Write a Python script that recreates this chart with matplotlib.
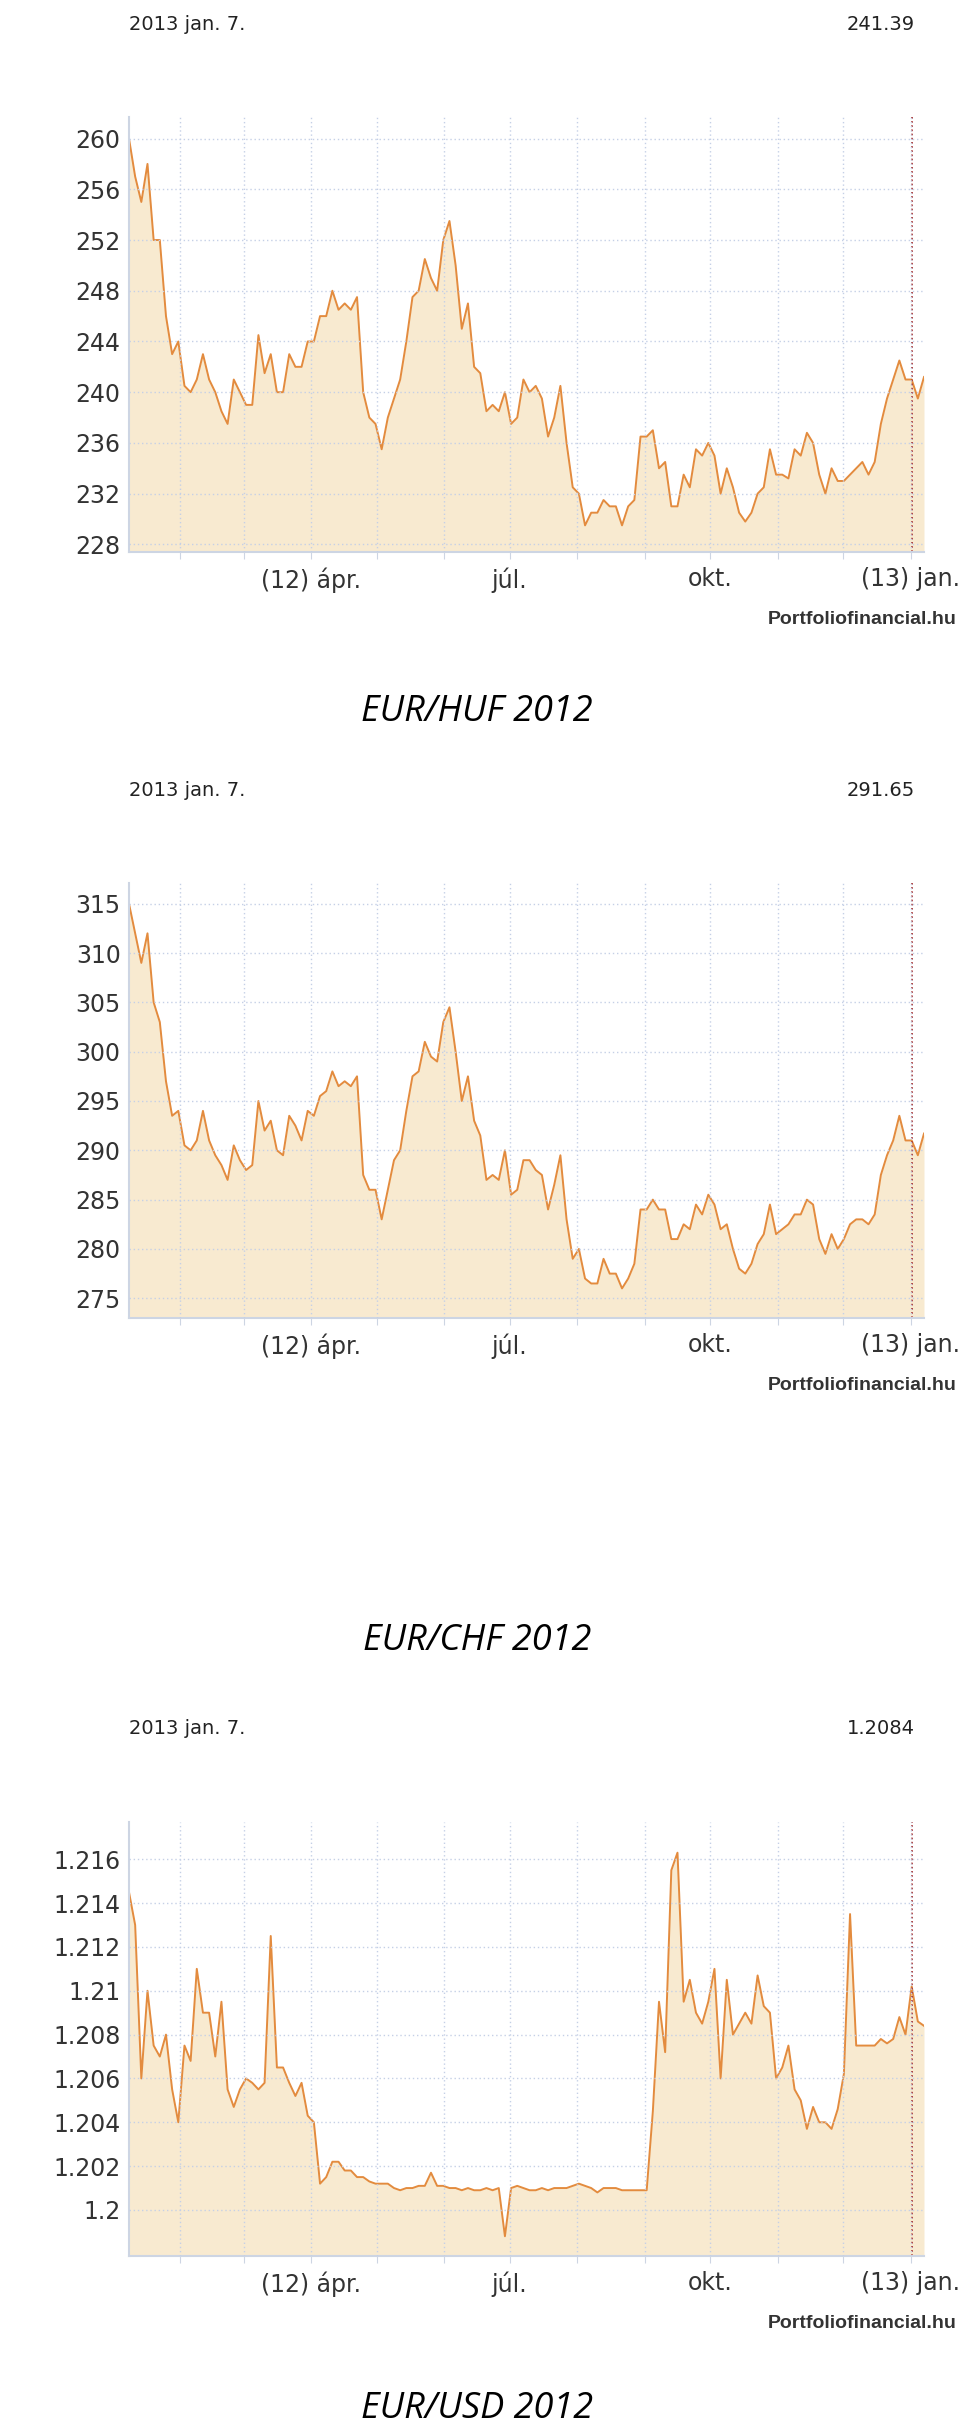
import matplotlib.pyplot as plt
import numpy as np

# day numbers in 2012 (Jan 1 = 0)
month_days = [31, 60, 91, 121, 152, 182, 213, 244, 274, 305, 335, 366]
label_days = [91, 182, 274, 366]
label_text = ["(12) ápr.", "júl.", "okt.", "(13) jan."]

huf = [260, 257, 255, 258, 252, 252, 246, 243, 244, 240.5, 240, 241, 243, 241, 240, 238.5, 237.5, 241, 240, 239,
       239, 244.5, 241.5, 243, 240, 240, 243, 242, 242, 244, 244, 246, 246, 248, 246.5, 247, 246.5, 247.5, 240, 238,
       237.5, 235.5, 238, 239.5, 241, 244, 247.5, 248, 250.5, 249, 248, 252, 253.5, 250, 245, 247, 242, 241.5, 238.5, 239,
       238.5, 240, 237.5, 238, 241, 240, 240.5, 239.5, 236.5, 238, 240.5, 236, 232.5, 232, 229.5, 230.5, 230.5, 231.5, 231, 231,
       229.5, 231, 231.5, 236.5, 236.5, 237, 234, 234.5, 231, 231, 233.5, 232.5, 235.5, 235, 236, 235, 232, 234, 232.5, 230.5,
       229.8, 230.5, 232, 232.5, 235.5, 233.5, 233.5, 233.2, 235.5, 235, 236.8, 236, 233.5, 232, 234, 233, 233, 233.5, 234, 234.5,
       233.5, 234.5, 237.5, 239.5, 241, 242.5, 241, 241, 239.5, 241.2]

chf = [315, 312, 309, 312, 305, 303, 297, 293.5, 294, 290.5, 290, 291, 294, 291, 289.5, 288.5, 287, 290.5, 289, 288,
       288.5, 295, 292, 293, 290, 289.5, 293.5, 292.5, 291, 294, 293.5, 295.5, 296, 298, 296.5, 297, 296.5, 297.5, 287.5, 286,
       286, 283, 286, 289, 290, 294, 297.5, 298, 301, 299.5, 299, 303, 304.5, 300, 295, 297.5, 293, 291.5, 287, 287.5,
       287, 290, 285.5, 286, 289, 289, 288, 287.5, 284, 286.5, 289.5, 283, 279, 280, 277, 276.5, 276.5, 279, 277.5, 277.5,
       276, 277, 278.5, 284, 284, 285, 284, 284, 281, 281, 282.5, 282, 284.5, 283.5, 285.5, 284.5, 282, 282.5, 280, 278,
       277.5, 278.5, 280.5, 281.5, 284.5, 281.5, 282, 282.5, 283.5, 283.5, 285, 284.5, 281, 279.5, 281.5, 280, 281, 282.5, 283, 283,
       282.5, 283.5, 287.5, 289.5, 291, 293.5, 291, 291, 289.5, 291.7]

usd = [1.2145, 1.213, 1.206, 1.210, 1.2075, 1.207, 1.208, 1.2055, 1.204, 1.2075, 1.2068, 1.211, 1.209, 1.209, 1.207, 1.2095,
       1.2055, 1.2047, 1.2055, 1.206, 1.2058, 1.2055, 1.2058, 1.2125, 1.2065, 1.2065, 1.2058, 1.2052, 1.2058, 1.2043, 1.204, 1.2012,
       1.2015, 1.2022, 1.2022, 1.2018, 1.2018, 1.2015, 1.2015, 1.2013, 1.2012, 1.2012, 1.2012, 1.201, 1.2009, 1.201, 1.201, 1.2011,
       1.2011, 1.2017, 1.2011, 1.2011, 1.201, 1.201, 1.2009, 1.201, 1.2009, 1.2009, 1.201, 1.2009, 1.201, 1.1988, 1.201, 1.2011,
       1.201, 1.2009, 1.2009, 1.201, 1.2009, 1.201, 1.201, 1.201, 1.2011, 1.2012, 1.2011, 1.201, 1.2008, 1.201, 1.201, 1.201,
       1.2009, 1.2009, 1.2009, 1.2009, 1.2009, 1.2045, 1.2095, 1.2072, 1.2155, 1.2163, 1.2095, 1.2105, 1.209, 1.2085, 1.2095, 1.211,
       1.206, 1.2105, 1.208, 1.2085, 1.209, 1.2085, 1.2107, 1.2093, 1.209, 1.206, 1.2065, 1.2075, 1.2055, 1.205, 1.2037, 1.2047,
       1.204, 1.204, 1.2037, 1.2046, 1.2062, 1.2135, 1.2075, 1.2075, 1.2075, 1.2075, 1.2078, 1.2076, 1.2078, 1.2088, 1.208, 1.2102,
       1.2086, 1.2084]

huf_ticks = [228, 232, 236, 240, 244, 248, 252, 256, 260]
chf_ticks = [275, 280, 285, 290, 295, 300, 305, 310, 315]
usd_ticks = [1.2, 1.202, 1.204, 1.206, 1.208, 1.21, 1.212, 1.214, 1.216]

W, H = 960, 2429
narrow = ['Liberation Sans Narrow', 'DejaVu Sans']
fig = plt.figure(figsize=(W / 100, H / 100), dpi=100)
fig.patch.set_facecolor('white')

charts = [
    # series, ticks, ylim, plot top/bottom px, header y, last value, title, title y
    (huf, huf_ticks, (227.4, 261.7), 117, 552, 25, "241.39", "EUR/HUF 2012", 712),
    (chf, chf_ticks, (273.0, 317.1), 883, 1318, 791, "291.65", "EUR/CHF 2012", 1641),
    (usd, usd_ticks, (1.1979, 1.2177), 1822, 2256, 1728, "1.2084", "EUR/USD 2012", 2409),
]

for vals, ticks, ylim, top, bot, head_y, last, title, title_y in charts:
    ax = fig.add_axes([129 / W, 1 - bot / H, (924 - 129) / W, (bot - top) / H])
    days = np.linspace(7.5, 372, len(vals))
    ax.fill_between(days, vals, ylim[0], color='#f8ead0', lw=0)
    ax.plot(days, vals, color='#e38b3e', lw=1.4)
    ax.axvline(366.5, color='#a02020', ls=(0, (1, 1.5)), lw=1.2)
    ax.set_xlim(7.5, 372)
    ax.set_ylim(*ylim)
    ax.set_yticks(ticks)
    ax.set_yticklabels(['%g' % t for t in ticks], family=narrow, fontsize=17, color='#333333')
    ax.set_xticks(month_days)
    ax.set_xticklabels(['' if d not in label_days else label_text[label_days.index(d)] for d in month_days],
                       family=narrow, fontsize=17, color='#333333')
    ax.grid(True, color='#c5d0e6', ls=(0, (1, 2)), lw=1)
    ax.set_axisbelow(False)
    for s in ['top', 'right']:
        ax.spines[s].set_visible(False)
    for s in ['left', 'bottom']:
        ax.spines[s].set_color('#cdd5e3')
        ax.spines[s].set_linewidth(1.5)
    ax.tick_params(axis='y', length=0, pad=6)
    ax.tick_params(axis='x', length=5, color='#cdd5e3', pad=6)
    ax.set_facecolor('white')

    fig.text(129 / W, 1 - head_y / H, "2013 jan. 7.", family=narrow, fontsize=14, color='#222222', va='center')
    fig.text(915 / W, 1 - head_y / H, last, family=narrow, fontsize=14, color='#222222', va='center', ha='right')
    fig.text(957 / W, 1 - (bot + 68) / H, "Portfoliofinancial.hu", fontsize=14, fontweight='bold',
             color='#333333', va='center', ha='right', family=['Liberation Sans', 'DejaVu Sans'])
    fig.text(477 / W, 1 - title_y / H, title, fontsize=26, style='italic', color='black',
             va='center', ha='center', family=['Open Sans', 'DejaVu Sans'])

fig.savefig('out.png', dpi=100)
